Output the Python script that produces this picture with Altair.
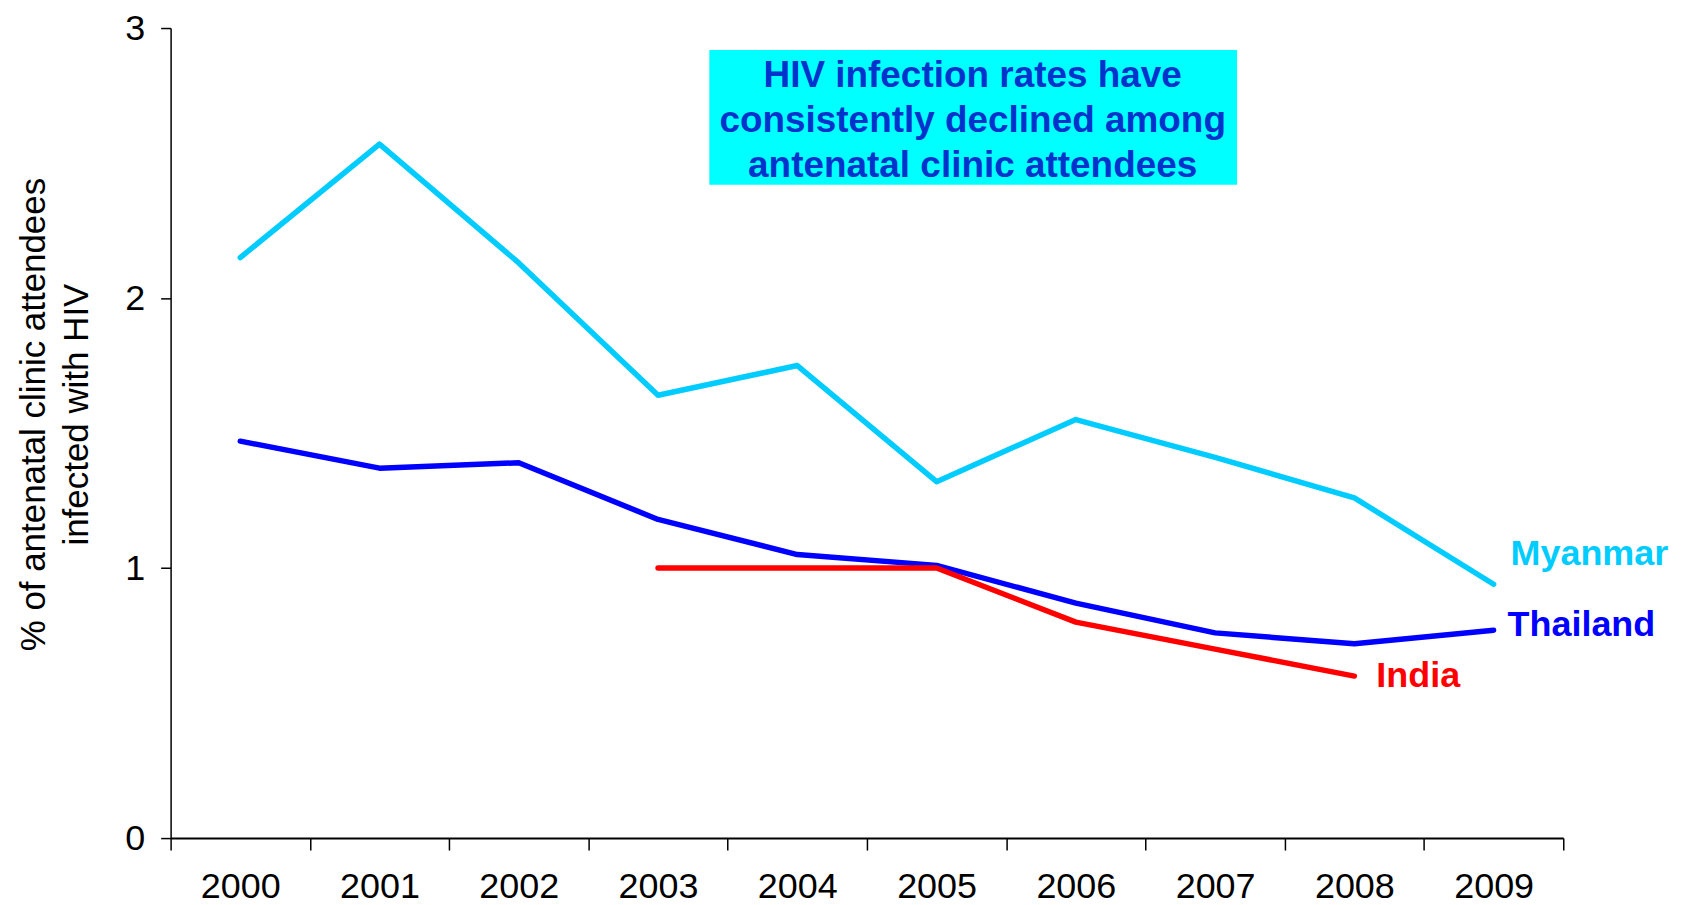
import altair as alt
import pandas as pd

years = ["2000", "2001", "2002", "2003", "2004", "2005", "2006", "2007", "2008", "2009"]
myanmar = [2.15, 2.57, 2.13, 1.64, 1.75, 1.32, 1.55, 1.41, 1.26, 0.94]
thailand = [1.47, 1.37, 1.39, 1.18, 1.05, 1.01, 0.87, 0.76, 0.72, 0.77]
india_years = ["2003", "2004", "2005", "2006", "2007", "2008"]
india = [1.00, 1.00, 1.00, 0.80, 0.70, 0.60]

series_names = ["Myanmar", "Thailand", "India"]
series_colors = ["#00CCFF", "#0000FF", "#FF0000"]
label_colors = ["#00CCFF", "#0000EE", "#FF0000"]
title_lines = ["HIV infection rates have", "consistently declined among", "antenatal clinic attendees"]
y_title = ["% of antenatal clinic attendees", "infected with HIV"]

rows = []
for y, v in zip(years, myanmar):
    rows.append({"year": y, "idx": years.index(y), "value": v, "country": "Myanmar"})
for y, v in zip(years, thailand):
    rows.append({"year": y, "idx": years.index(y), "value": v, "country": "Thailand"})
for y, v in zip(india_years, india):
    rows.append({"year": y, "idx": years.index(y), "value": v, "country": "India"})
df = pd.DataFrame(rows)

FONT = "Liberation Sans"
PLOT_W = 1396
n = len(years)
band = PLOT_W / n
edges = [i - 0.5 for i in range(n + 1)]
year_array = "[" + ",".join("'%s'" % y for y in years) + "]"

x_enc = alt.X(
    "idx:Q",
    scale=alt.Scale(domain=[-0.5, n - 0.5], nice=False, zero=False),
    axis=alt.Axis(
        title=None, values=edges, labelAngle=0, grid=False,
        labelExpr="datum.value < %d ? %s[datum.value + 0.5] : ''" % (n - 1, year_array),
        labelOffset=band / 2, labelFlush=False, labelOverlap=False,
        labelFontSize=36, labelFont=FONT, labelColor="black",
        domainColor="black", domainWidth=2,
        tickColor="black", tickWidth=1.5, tickSize=12, labelPadding=20,
    ),
)
y_enc = alt.Y(
    "value:Q",
    scale=alt.Scale(domain=[0, 3], nice=False),
    axis=alt.Axis(
        values=[0, 1, 2, 3], format="d", grid=False, title=y_title,
        titleFont=FONT, titleFontSize=35, titleFontWeight="normal", titleColor="black",
        titleLineHeight=43, titlePadding=30, titleY=387,
        labelFontSize=36, labelFont=FONT, labelColor="black", labelPadding=16,
        domainColor="black", domainWidth=1.5, tickColor="black", tickWidth=1.5, tickSize=10,
    ),
)
color_enc = alt.Color(
    "country:N",
    scale=alt.Scale(domain=series_names, range=series_colors),
    legend=None,
)
label_color_enc = alt.Color(
    "country:N",
    scale=alt.Scale(domain=series_names, range=label_colors),
    legend=None,
)

lines = alt.Chart(df).mark_line(strokeWidth=5.5, strokeCap="round", strokeJoin="round").encode(
    x=x_enc, y=y_enc, color=color_enc, detail="country:N"
)

last = df.groupby("country").tail(1)
label_offsets = {"Myanmar": (17, -30), "Thailand": (14, -5), "India": (22, 0)}
labels = []
for name in series_names:
    dx, dy = label_offsets[name]
    labels.append(
        alt.Chart(last[last["country"] == name]).mark_text(
            align="left", baseline="middle", dx=dx, dy=dy,
            font=FONT, fontSize=36, fontWeight="bold",
        ).encode(x=x_enc, y=y_enc, text="country:N", color=label_color_enc)
    )

box_df = pd.DataFrame({"t": ["\n".join(title_lines)]})
box = alt.Chart(box_df).mark_rect(color="#00FFFF").encode(
    x=alt.value(540), x2=alt.value(1069), y=alt.value(22), y2=alt.value(157)
)

box_text = alt.Chart(box_df).mark_text(
    align="center", baseline="middle", lineBreak="\n", lineHeight=45,
    font=FONT, fontSize=37, fontWeight="bold", color="#0033CC",
).encode(x=alt.value(804), y=alt.value(48), text="t:N")

chart = alt.layer(lines, *labels, box, box_text).properties(
    width=PLOT_W, height=812,
    background="white",
    autosize=alt.AutoSizeParams(type="none"),
    padding={"left": 163, "top": 19, "right": 110, "bottom": 66},
).configure_view(stroke=None)

chart.save("out.html", embed_options={"renderer": "svg", "actions": False})
